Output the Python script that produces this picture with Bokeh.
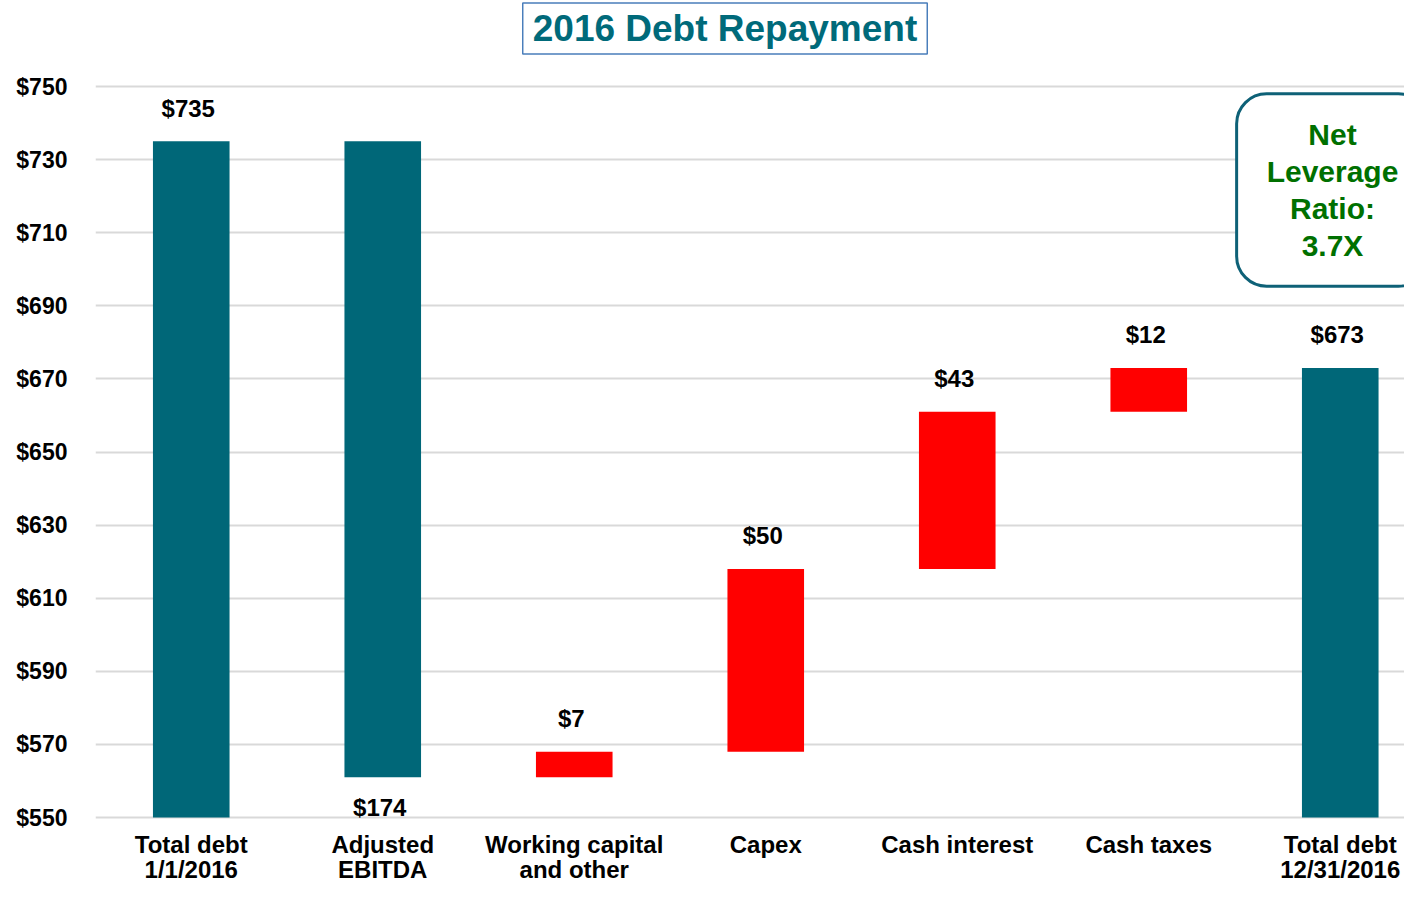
from bokeh.plotting import figure
from bokeh.models import Range1d, FixedTicker, PrintfTickFormatter, Label, ColumnDataSource
from bokeh.core.properties import value
from bokeh.embed import file_html
from bokeh.resources import INLINE

# ---- data ----
categories = ["Total debt\n1/1/2016", "Adjusted\nEBITDA", "Working capital\nand other",
              "Capex", "Cash interest", "Cash taxes", "Total debt\n12/31/2016"]
amounts = [735, -174, 7, 50, 43, 12, 673]
kinds = ["total", "step", "step", "step", "step", "step", "total"]
value_labels = ["$735", "$174", "$7", "$50", "$43", "$12", "$673"]
y_ticks = [550, 570, 590, 610, 630, 650, 670, 690, 710, 730, 750]
title_text = "2016 Debt Repayment"
box_text = "Net\nLeverage\nRatio:\n3.7X"

TEAL = "#006778"
RED = "#FF0000"
FONT = "Liberation Sans"

# ---- waterfall geometry from data ----
base = y_ticks[0]
bottoms, tops, colors, lab_y, lab_off = [], [], [], [], []
running = None
for a, k in zip(amounts, kinds):
    if k == "total":
        b, t = base, a
        running = a
        c = TEAL
    else:
        start = running
        running = running + a
        b, t = min(start, running), max(start, running)
        c = TEAL if a < 0 else RED
    bottoms.append(b)
    tops.append(t)
    colors.append(c)
    if a < 0:
        lab_y.append(b)
        lab_off.append(30)
    else:
        lab_y.append(t)
        lab_off.append(-33)

xs = list(range(len(categories)))
src = ColumnDataSource(dict(x=xs, bottom=bottoms, top=tops, color=colors,
                            ly=lab_y, loff=lab_off, lab=value_labels, cat=categories,
                            cy=[base] * len(xs)))

# ---- layout (frame spans full canvas height; ticks/grid only 550..750) ----
W, H = 1404, 886
left_b = 95
top_px = 86.0          # screen y of the 750 gridline
bot_px = 817.0         # screen y of the 550 gridline
ppu = (bot_px - top_px) / (y_ticks[-1] - y_ticks[0])
px_per_cat = 191.5
y_end = y_ticks[-1] + top_px / ppu
y_start = y_ticks[-1] - (H - top_px) / ppu
x_start = -0.5
x_end = x_start + (W - left_b) / px_per_cat

p = figure(width=W, height=H, output_backend="svg", toolbar_location=None,
           x_range=Range1d(x_start, x_end), y_range=Range1d(y_start, y_end),
           x_axis_location=None, min_border_left=left_b, min_border_top=0,
           min_border_bottom=0, min_border_right=0)
p.outline_line_color = None
p.background_fill_color = "white"
p.border_fill_color = "white"

p.xgrid.visible = False
p.yaxis.ticker = FixedTicker(ticks=y_ticks)
p.yaxis.formatter = PrintfTickFormatter(format="$%d")
p.yaxis.axis_line_color = None
p.yaxis.major_tick_line_color = None
p.yaxis.minor_tick_line_color = None
p.yaxis.major_tick_out = 0
p.yaxis.major_label_standoff = 28
p.yaxis.major_label_text_font = FONT
p.yaxis.major_label_text_font_style = "bold"
p.yaxis.major_label_text_font_size = "23px"
p.yaxis.major_label_text_color = "black"
p.ygrid.grid_line_color = "#D9D9D9"
p.ygrid.grid_line_width = 2

p.vbar(x="x", bottom="bottom", top="top", width=0.4, fill_color="color",
       line_color=None, source=src)

p.text(x="x", y="ly", text="lab", y_offset="loff", x_offset=-3, source=src,
       text_align="center", text_baseline="middle", text_font=value(FONT),
       text_font_style="bold", text_font_size="24px", text_color="black")

p.text(x="x", y="cy", text="cat", y_offset=13, source=src,
       text_align="center", text_baseline="top", text_font=value(FONT),
       text_font_style="bold", text_font_size="24px", text_color="black",
       text_line_height=0.95)

# title box
title = Label(x=x_start + (724.5 - left_b) / px_per_cat,
              y=y_ticks[-1] + (top_px - 28.0) / ppu,
              text=title_text, text_align="center", text_baseline="middle",
              text_font=FONT, text_font_style="bold", text_font_size="37px",
              text_color="#006A7A", border_line_color="#4A7EBB", border_line_width=1.5,
              background_fill_color="white", padding=(10, 5))
p.add_layout(title)

box = Label(x=x_start + (1332 - left_b) / px_per_cat,
            y=y_ticks[-1] + (top_px - 189.5) / ppu,
            text=box_text, text_align="center", text_baseline="middle",
            text_font=FONT, text_font_style="bold", text_font_size="30px",
            text_color="#007000", text_line_height=1.125,
            border_line_color="#0E6177", border_line_width=3, border_radius=30,
            background_fill_color="white", padding=(30, 24))
p.add_layout(box)

open("out.html", "w").write(file_html(p, INLINE))
